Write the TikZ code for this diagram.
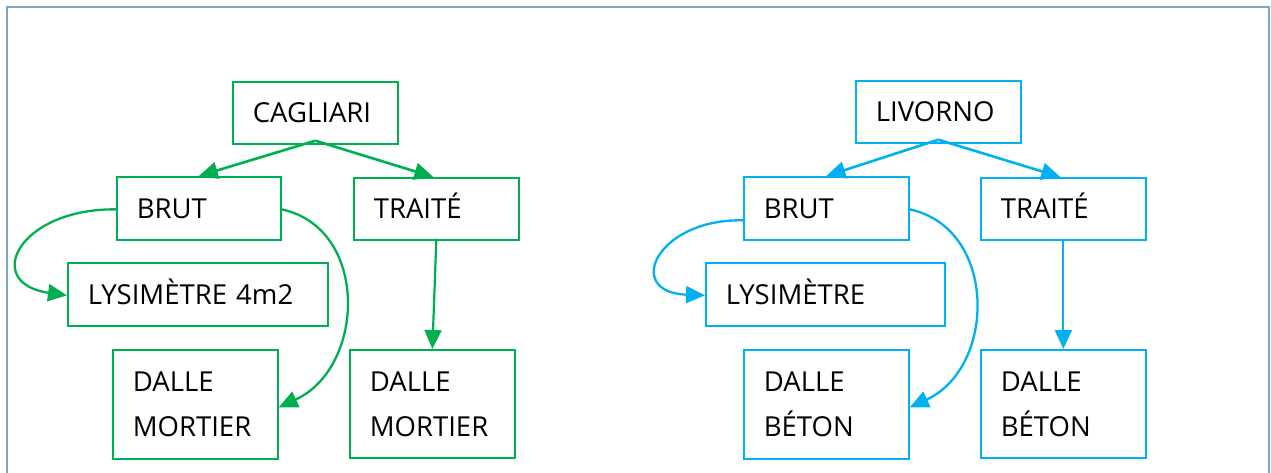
\documentclass[tikz,border=0pt]{standalone}
\usepackage{fontspec}
\setmainfont{Open Sans}
\usetikzlibrary{arrows.meta}

\definecolor{sitegreen}{HTML}{00B050}
\definecolor{siteblue}{HTML}{00B0F0}
\definecolor{framecol}{HTML}{7EA8C8}

\tikzset{
  x=1pt, y=-1pt,
  sitebox/.style={draw, line width=1.7pt, anchor=north west,
    inner xsep=20pt, inner ysep=0pt, align=left,
    font=\fontsize{27.5}{45}\selectfont, text=black},
  link/.style={line width=2.6pt, -{Triangle[length=19pt,width=17pt]}},
}

\begin{document}
\begin{tikzpicture}
\useasboundingbox (0,0) rectangle (1271,472);
\fill[white] (0,0) rectangle (1271,472);
% outer frame
\draw[framecol, line width=2pt] (7,7) rectangle (1269,500);

% ---- Cagliari ----
\begin{scope}[every node/.append style={sitebox, draw=sitegreen}, sitegreen]
\node[text width=125pt, minimum height=62pt] (cag) at (232,81) {CAGLIARI};
\node[text width=124pt, minimum height=63pt] (brutA) at (116,176) {BRUT};
\node[text width=125pt, minimum height=62pt] (traiA) at (353,177) {TRAIT\smash{É}};
\node[text width=220pt, minimum height=63pt] (lysA) at (67,262) {LYSIM\smash{È}TRE 4m2};
\node[text width=125pt, minimum height=109pt] (dalA1) at (112,349) {DALLE\\MORTIER};
\node[text width=125pt, minimum height=108pt] (dalA2) at (349,349) {DALLE\\MORTIER};

\draw[link] ([yshift=4pt]cag.south) -- (brutA.north);
\draw[link] ([yshift=4pt]cag.south) -- ([xshift=-3pt]traiA.north);
\draw[link, line width=2.3pt] ([yshift=-1pt]brutA.west) .. controls +(-98,-1) and +(-85,-12) .. ([yshift=-1pt]lysA.west);
\draw[link, line width=2.3pt] ([yshift=-1pt]brutA.east) .. controls +(88,19) and +(87,-40) .. ([yshift=-3pt]dalA1.east);
\draw[link, line width=2.2pt] ([yshift=2pt]traiA.south) -- (dalA2.north);
\end{scope}

% ---- Livorno ----
\begin{scope}[every node/.append style={sitebox, draw=siteblue}, siteblue]
\node[text width=125pt, minimum height=62pt] (liv) at (855,80) {LIVORNO};
\node[text width=125pt, minimum height=63pt] (brutB) at (743,176) {BRUT};
\node[text width=125pt, minimum height=62pt] (traiB) at (980,177) {TRAIT\smash{É}};
\node[text width=199pt, minimum height=63pt] (lysB) at (705,262) {LYSIM\smash{È}TRE};
\node[text width=125pt, minimum height=109pt] (dalB1) at (743,349) {DALLE\\BÉTON};
\node[text width=125pt, minimum height=108pt] (dalB2) at (980,349) {DALLE\\BÉTON};

\draw[link] ([yshift=4pt]liv.south) -- (brutB.north);
\draw[link] ([yshift=4pt]liv.south) -- ([xshift=-3pt]traiB.north);
\draw[link, line width=2.3pt] ([yshift=-12pt]brutB.west) .. controls +(-86,-2) and +(-82,-3) .. ([yshift=-1pt]lysB.west);
\draw[link, line width=2.3pt] ([yshift=-1pt]brutB.east) .. controls +(88,19) and +(87,-40) .. ([yshift=-3pt]dalB1.east);
\draw[link, line width=2.2pt] ([yshift=2pt]traiB.south) -- (dalB2.north);
\end{scope}
\end{tikzpicture}
\end{document}
